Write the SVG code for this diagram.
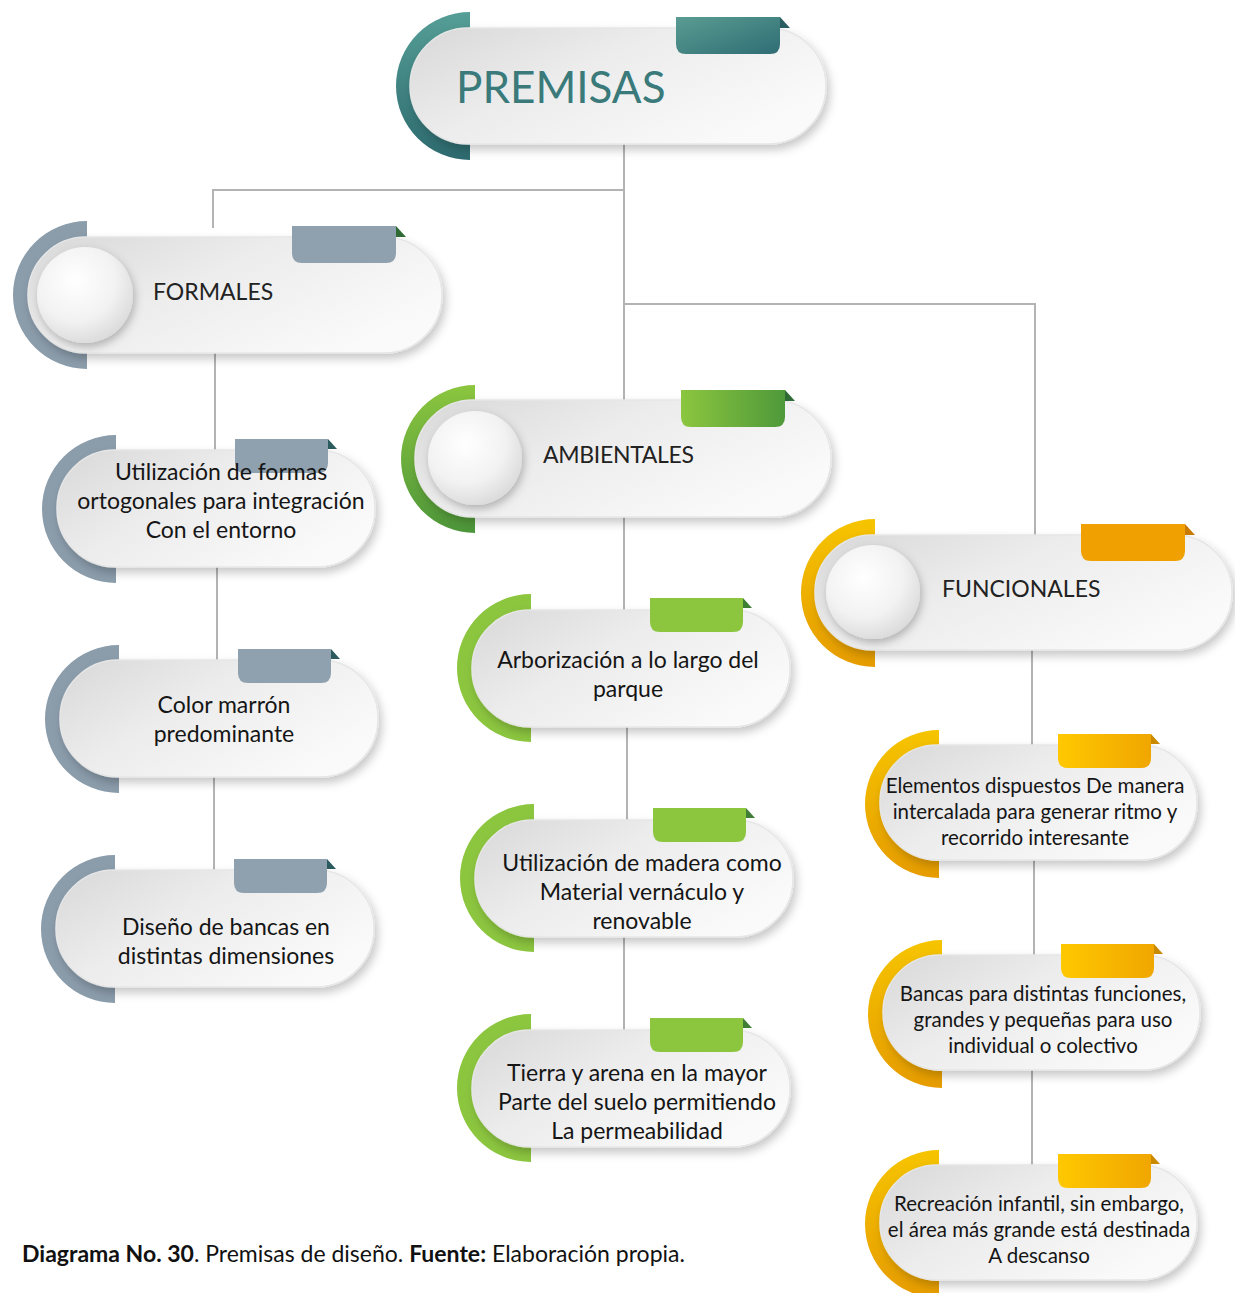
<svg xmlns="http://www.w3.org/2000/svg" xmlns:xlink="http://www.w3.org/1999/xlink" width="1235" height="1293" viewBox="0 0 1235 1293">
<style>
.conn{fill:none;stroke:#b3b3b3;stroke-width:2}
.pill{fill:url(#gPill);stroke:#e6e6e6;stroke-width:1.5;filter:url(#sh)}
.knob{fill:url(#gKnob);filter:url(#sh2)}
.head{font-family:Lato,"Liberation Sans",sans-serif;font-size:23px;fill:#222}
.leaf{font-family:Lato,"Liberation Sans",sans-serif;font-size:23px;fill:#151515;text-anchor:middle}
.leafs{font-family:Lato,"Liberation Sans",sans-serif;font-size:20.5px;fill:#151515;text-anchor:middle}
.cap{font-family:Lato,"Liberation Sans",sans-serif;font-size:23px;fill:#111}
</style>
<defs>
<filter id="sh" x="-10%" y="-20%" width="125%" height="150%"><feDropShadow dx="3" dy="5" stdDeviation="5" flood-color="#000" flood-opacity="0.22"/></filter>
<filter id="sh2" x="-30%" y="-30%" width="170%" height="170%"><feDropShadow dx="2" dy="4" stdDeviation="4" flood-color="#000" flood-opacity="0.25"/></filter>
<linearGradient id="gPill" x1="0" y1="0" x2="1" y2="0.6"><stop offset="0" stop-color="#d8d8d8"/><stop offset="0.45" stop-color="#ececec"/><stop offset="1" stop-color="#fafafa"/></linearGradient>
<radialGradient id="gKnob" cx="0.4" cy="0.35" r="0.7"><stop offset="0" stop-color="#ffffff"/><stop offset="0.6" stop-color="#f2f2f2"/><stop offset="1" stop-color="#d9d9d9"/></radialGradient>
<linearGradient id="gTeal" x1="0" y1="0" x2="0" y2="1"><stop offset="0" stop-color="#559e96"/><stop offset="1" stop-color="#2d6a6f"/></linearGradient>
<linearGradient id="gTealTab" x1="0" y1="0" x2="1" y2="1"><stop offset="0" stop-color="#5a9c92"/><stop offset="1" stop-color="#2f6d74"/></linearGradient>
<linearGradient id="gGreen" x1="0" y1="0" x2="0" y2="1"><stop offset="0" stop-color="#8cc63f"/><stop offset="1" stop-color="#4d963a"/></linearGradient>
<linearGradient id="gGreenTab" x1="0" y1="0" x2="1" y2="0"><stop offset="0" stop-color="#8cc63f"/><stop offset="1" stop-color="#4f993a"/></linearGradient>
<linearGradient id="gYellow" x1="0" y1="0" x2="0" y2="1"><stop offset="0" stop-color="#f6c400"/><stop offset="1" stop-color="#e69c00"/></linearGradient>
<linearGradient id="gYellowTab" x1="0" y1="0" x2="1" y2="0"><stop offset="0" stop-color="#ffc800"/><stop offset="1" stop-color="#f0a600"/></linearGradient>
<path id="arcM" d="M75,0 A74,74 0 0 0 75,148 L75,130 A56,56 0 0 1 75,18 Z"/>
<path id="arcL" d="M74,0 A74,74 0 0 0 74,148 L74,131 A57,57 0 0 1 74,17 Z"/>
<path id="tabM" d="M281,5 H385 V32 Q385,42 375,42 H291 Q281,42 281,32 Z"/>
<path id="foldM" d="M385,5 L395,16 L385,16 Z"/>
<path id="tabL" d="M193,4 H286 V28 Q286,38 276,38 H203 Q193,38 193,28 Z"/>
<path id="foldL" d="M286,4 L295,14 L286,14 Z"/>
</defs>

<g id="connectors">
<path class="conn" d="M624,143 V400"/>
<path class="conn" d="M624,190 H213 V228"/>
<path class="conn" d="M624,304 H1035 V535"/>
<path class="conn" d="M215,352 V450"/>
<path class="conn" d="M217,567 V660"/>
<path class="conn" d="M214,777 V870"/>
<path class="conn" d="M624,517 V610"/>
<path class="conn" d="M627,727 V820"/>
<path class="conn" d="M624,937 V1030"/>
<path class="conn" d="M1032,650 V745"/>
<path class="conn" d="M1034,860 V955"/>
<path class="conn" d="M1032,1070 V1165"/>
</g>

<g id="premisas" transform="translate(395,12)">
<use href="#arcM" fill="url(#gTeal)"/>
<rect class="pill" x="15" y="16" width="416" height="116" rx="58"/>
<use href="#tabM" fill="url(#gTealTab)"/>
<use href="#foldM" fill="#2a5d62"/>
<text x="61" y="91" font-family="Lato,'Liberation Sans',sans-serif" font-size="44" fill="#3a7a7a">PREMISAS</text>
</g>

<g id="formales" transform="translate(12,221)">
<use href="#arcM" fill="#8b9cab"/>
<rect class="pill" x="16" y="16" width="414" height="116" rx="58"/>
<use href="#tabM" fill="#8fa0ae" x="-1"/>
<use href="#foldM" fill="#2f6a35" x="-1"/>
<circle class="knob" cx="73" cy="74" r="48"/>
<text class="head" x="141" y="79">FORMALES</text>
</g>

<g id="ambientales" transform="translate(400,385)">
<use href="#arcM" fill="url(#gGreen)"/>
<rect class="pill" x="15" y="15" width="416" height="117" rx="58"/>
<use href="#tabM" fill="url(#gGreenTab)"/>
<use href="#foldM" fill="#2f6a35"/>
<circle class="knob" cx="75" cy="73" r="47"/>
<text class="head" x="143" y="78" textLength="151">AMBIENTALES</text>
</g>

<g id="funcionales" transform="translate(800,519)">
<use href="#arcM" fill="url(#gYellow)"/>
<rect class="pill" x="15" y="16" width="417" height="115" rx="57"/>
<use href="#tabM" fill="#f0a000"/>
<use href="#foldM" fill="#c97a00"/>
<circle class="knob" cx="73" cy="73" r="47"/>
<text class="head" x="142" y="78">FUNCIONALES</text>
</g>

<g id="f1" transform="translate(42,435)">
<use href="#arcL" fill="#8b9cab"/>
<rect class="pill" x="15" y="15" width="318" height="117" rx="58"/>
<use href="#tabL" fill="#8fa0ae"/>
<use href="#foldL" fill="#2c5b5e"/>
<text class="leaf" x="179" y="45">Utilización de formas</text>
<text class="leaf" x="179" y="74">ortogonales para integración</text>
<text class="leaf" x="179" y="103">Con el entorno</text>
</g>

<g id="f2" transform="translate(45,645)">
<use href="#arcL" fill="#8b9cab"/>
<rect class="pill" x="15" y="15" width="318" height="117" rx="58"/>
<use href="#tabL" fill="#8fa0ae"/>
<use href="#foldL" fill="#2c5b5e"/>
<text class="leaf" x="179" y="68">Color marrón</text>
<text class="leaf" x="179" y="97">predominante</text>
</g>

<g id="f3" transform="translate(41,855)">
<use href="#arcL" fill="#8b9cab"/>
<rect class="pill" x="15" y="15" width="318" height="117" rx="58"/>
<use href="#tabL" fill="#8fa0ae"/>
<use href="#foldL" fill="#2c5b5e"/>
<text class="leaf" x="185" y="80">Diseño de bancas en</text>
<text class="leaf" x="185" y="109">distintas dimensiones</text>
</g>

<g id="a1" transform="translate(457,594)">
<use href="#arcL" fill="#8cc63f"/>
<rect class="pill" x="15" y="16" width="318" height="117" rx="58"/>
<use href="#tabL" fill="#8cc63f"/>
<use href="#foldL" fill="#3f7f35"/>
<text class="leaf" x="171" y="74">Arborización a lo largo del</text>
<text class="leaf" x="171" y="103">parque</text>
</g>

<g id="a2" transform="translate(460,804)">
<use href="#arcL" fill="#8cc63f"/>
<rect class="pill" x="15" y="16" width="318" height="117" rx="58"/>
<use href="#tabL" fill="#8cc63f"/>
<use href="#foldL" fill="#3f7f35"/>
<text class="leaf" x="182" y="67">Utilización de madera como</text>
<text class="leaf" x="182" y="96">Material vernáculo y</text>
<text class="leaf" x="182" y="125">renovable</text>
</g>

<g id="a3" transform="translate(457,1014)">
<use href="#arcL" fill="#8cc63f"/>
<rect class="pill" x="15" y="16" width="318" height="117" rx="58"/>
<use href="#tabL" fill="#8cc63f"/>
<use href="#foldL" fill="#3f7f35"/>
<text class="leaf" x="180" y="67">Tierra y arena en la mayor</text>
<text class="leaf" x="180" y="96">Parte del suelo permitiendo</text>
<text class="leaf" x="180" y="125">La permeabilidad</text>
</g>

<g id="u1" transform="translate(865,730)">
<use href="#arcL" fill="url(#gYellow)"/>
<rect class="pill" x="15" y="15" width="317" height="115" rx="57"/>
<use href="#tabL" fill="url(#gYellowTab)"/>
<use href="#foldL" fill="#c98a00"/>
<text class="leafs" x="170" y="63">Elementos dispuestos De manera</text>
<text class="leafs" x="170" y="89">intercalada para generar ritmo y</text>
<text class="leafs" x="170" y="115">recorrido interesante</text>
</g>

<g id="u2" transform="translate(868,940)">
<use href="#arcL" fill="url(#gYellow)"/>
<rect class="pill" x="15" y="15" width="317" height="115" rx="57"/>
<use href="#tabL" fill="url(#gYellowTab)"/>
<use href="#foldL" fill="#c98a00"/>
<text class="leafs" x="175" y="61">Bancas para distintas funciones,</text>
<text class="leafs" x="175" y="87">grandes y pequeñas para uso</text>
<text class="leafs" x="175" y="113">individual o colectivo</text>
</g>

<g id="u3" transform="translate(865,1150)">
<use href="#arcL" fill="url(#gYellow)"/>
<rect class="pill" x="15" y="15" width="317" height="115" rx="57"/>
<use href="#tabL" fill="url(#gYellowTab)"/>
<use href="#foldL" fill="#c98a00"/>
<text class="leafs" x="174" y="61">Recreación infantil, sin embargo,</text>
<text class="leafs" x="174" y="87">el área más grande está destinada</text>
<text class="leafs" x="174" y="113">A descanso</text>
</g>

<text class="cap" x="22" y="1262"><tspan font-weight="bold">Diagrama No. 30</tspan>. Premisas de diseño. <tspan font-weight="bold">Fuente:</tspan> Elaboración propia.</text>
</svg>
